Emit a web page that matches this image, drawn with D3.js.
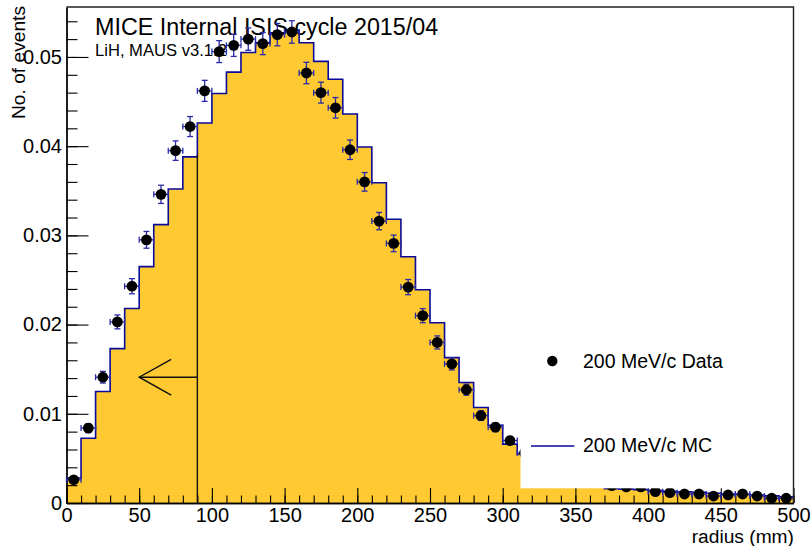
<!DOCTYPE html>
<html>
<head>
<meta charset="utf-8">
<script src="https://cdn.jsdelivr.net/npm/d3@7"></script>
<style>
  html, body { margin: 0; padding: 0; background: #fff; }
  svg { display: block; font-family: "Liberation Sans", Arial, Helvetica, sans-serif; }
</style>
</head>
<body>
<svg id="chart" width="812" height="546"></svg>
<script>
// Radial distribution, 10 mm bins from 0 to 500 mm
const binEdges = d3.range(0, 501, 10);
const binCenters = d3.range(5, 500, 10);

// Data: normalised counts per bin with statistical errors
const dataValues = [
  0.0026, 0.0084, 0.0141, 0.0203, 0.0243, 0.0295, 0.0346, 0.0395, 0.0422, 0.0462,
  0.0506, 0.0513, 0.0520, 0.0515, 0.0525, 0.0528, 0.0482, 0.0460, 0.0443, 0.0396,
  0.0360, 0.0316, 0.0291, 0.0242, 0.0210, 0.0180, 0.0156, 0.0127, 0.0098, 0.0085,
  0.0070, 0.0056, 0.0047, 0.0039, 0.0032, 0.0027, 0.0024, 0.00195, 0.0018, 0.0018,
  0.00127, 0.00116, 0.00101, 0.00101, 0.00078, 0.0009, 0.00101, 0.00078, 0.00053, 0.00053
];
const dataErrors = [
  0.00028, 0.0005, 0.00065, 0.00078, 0.00085, 0.00094, 0.00102, 0.00109, 0.00112, 0.00118,
  0.00123, 0.00124, 0.00125, 0.00124, 0.00125, 0.00126, 0.0012, 0.00117, 0.00115, 0.00109,
  0.00104, 0.00097, 0.00093, 0.00085, 0.00079, 0.00073, 0.00068, 0.00062, 0.00054, 0.0005,
  0.00046, 0.00041, 0.00038, 0.00034, 0.00031, 0.00028, 0.00027, 0.00024, 0.00023, 0.00023,
  0.00019, 0.00019, 0.00017, 0.00017, 0.00015, 0.00016, 0.00017, 0.00015, 0.00013, 0.00013
];

// Simulation histogram
const mcValues = [
  0.0028, 0.00725, 0.0125, 0.0173, 0.0218, 0.0265, 0.0312, 0.0352, 0.0388, 0.0426,
  0.0459, 0.0483, 0.0505, 0.0516, 0.0527, 0.0530, 0.0516, 0.0495, 0.0475, 0.0436,
  0.0399, 0.0359, 0.0318, 0.0276, 0.0239, 0.0202, 0.0163, 0.0135, 0.0107, 0.0087,
  0.0066, 0.0055, 0.0045, 0.0037, 0.0031, 0.0026, 0.0022, 0.0016, 0.00155, 0.0015,
  0.0014, 0.0013, 0.00125, 0.0012, 0.0011, 0.001, 0.00095, 0.0009, 0.0008, 0.0007
];

// Axis ticks
const xMajorTicks = [0, 50, 100, 150, 200, 250, 300, 350, 400, 450, 500];
const xMinorTicks = d3.range(0, 501, 10);
const yMajorTicks = [0, 0.01, 0.02, 0.03, 0.04, 0.05];
const yMinorTicks = [0, 0.002, 0.004, 0.006, 0.008, 0.01, 0.012, 0.014, 0.016, 0.018, 0.02,
  0.022, 0.024, 0.026, 0.028, 0.03, 0.032, 0.034, 0.036, 0.038, 0.04, 0.042, 0.044, 0.046,
  0.048, 0.05, 0.052, 0.054];

// Texts
const titleText = "MICE Internal ISIS cycle 2015/04";
const subtitleText = "LiH, MAUS v3.1.2";
const xTitle = "radius (mm)";
const yTitle = "No. of events";
const legendLabels = ["200 MeV/c Data", "200 MeV/c MC"];

// Selection cut at 90 mm, arrow pointing towards accepted region
const cutRadius = 90;
const cutHeight = 0.039;
const arrowTip = 50;
const arrowLevel = 0.0141;

const fillColor = "#fec931";
const mcColor = "#0a0a9a";
const errColor = "#2a2aa8";

const svg = d3.select("#chart");
const frame = { left: 66.5, right: 793.5, top: 7, bottom: 503 };

const x = d3.scaleLinear().domain([0, 500]).range([frame.left, frame.right]);
const y = d3.scaleLinear().domain([0, 0.0556]).range([frame.bottom, frame.top]);

// --- MC histogram: filled steps ---
const stepPts = [[x(binEdges[0]), y(0)]];
mcValues.forEach((v, i) => {
  stepPts.push([x(binEdges[i]), y(v)]);
  stepPts.push([x(binEdges[i + 1]), y(v)]);
});
stepPts.push([x(500), y(0)]);

svg.append("path")
  .attr("d", d3.line()(stepPts) + "Z")
  .attr("fill", fillColor)
  .attr("stroke", "none");

svg.append("path")
  .attr("d", d3.line()(stepPts.slice(1, stepPts.length - 1)))
  .attr("fill", "none")
  .attr("stroke", mcColor)
  .attr("stroke-width", 1.6);

// --- Axes (ticks drawn inside the frame) ---
const fmtY = d => d === 0 ? "0" : d3.format(".2f")(d);

const xAxisMinor = d3.axisBottom(x).tickValues(xMinorTicks).tickSize(-7.5).tickSizeOuter(0).tickFormat("");
const xAxisMajor = d3.axisBottom(x).tickValues(xMajorTicks).tickSize(-15).tickSizeOuter(0).tickPadding(5)
  .tickFormat(d3.format("d"));
const yAxisMinor = d3.axisLeft(y).tickValues(yMinorTicks).tickSize(-11).tickSizeOuter(0).tickFormat("");
const yAxisMajor = d3.axisLeft(y).tickValues(yMajorTicks).tickSize(-22).tickSizeOuter(0).tickPadding(4.5)
  .tickFormat(fmtY);

function styleAxis(g) {
  g.selectAll("path.domain").attr("stroke", "#000").attr("stroke-width", 1.3);
  g.selectAll(".tick line").attr("stroke", "#000").attr("stroke-width", 1.1);
  g.selectAll("text").attr("font-size", 20).attr("fill", "#000")
    .attr("font-family", "'Liberation Sans', Arial, sans-serif");
}

svg.append("g").attr("transform", `translate(0,${frame.bottom})`).call(xAxisMinor).call(styleAxis);
svg.append("g").attr("transform", `translate(0,${frame.bottom})`).call(xAxisMajor).call(styleAxis);
svg.append("g").attr("transform", `translate(${frame.left},0)`).call(yAxisMinor).call(styleAxis);
svg.append("g").attr("transform", `translate(${frame.left},0)`).call(yAxisMajor).call(styleAxis);

// --- Titles ---
svg.append("text").attr("x", 95).attr("y", 35).attr("font-size", 23.3).attr("fill", "#000").text(titleText);
svg.append("text").attr("x", 95).attr("y", 56).attr("font-size", 16.6).attr("fill", "#000").text(subtitleText);

svg.append("text")
  .attr("transform", "translate(25,6) rotate(-90)")
  .attr("text-anchor", "end")
  .attr("font-size", 19.2).attr("fill", "#000")
  .text(yTitle);

svg.append("text")
  .attr("x", 794).attr("y", 542.5)
  .attr("text-anchor", "end")
  .attr("font-size", 19.2).attr("fill", "#000")
  .text(xTitle);

// --- Cut line and arrow ---
const cut = svg.append("g").attr("stroke", "#111").attr("stroke-width", 1.4).attr("fill", "none");
cut.append("line")
  .attr("x1", x(cutRadius)).attr("x2", x(cutRadius))
  .attr("y1", y(0)).attr("y2", y(cutHeight));
cut.append("line")
  .attr("x1", x(cutRadius)).attr("x2", x(arrowTip))
  .attr("y1", y(arrowLevel)).attr("y2", y(arrowLevel));
cut.append("path")
  .attr("d", d3.line()([
    [x(arrowTip + 22), y(arrowLevel + 0.002)],
    [x(arrowTip), y(arrowLevel)],
    [x(arrowTip + 22), y(arrowLevel - 0.002)]
  ]));

// --- Data points with error bars ---
const pts = binCenters.map((c, i) => ({ c, v: dataValues[i], e: dataErrors[i] }));
const eg = svg.append("g").attr("stroke", errColor).attr("stroke-width", 1.3);
const cap = 3;
pts.forEach(p => {
  const cx = x(p.c), cy = y(p.v);
  const xl = x(p.c - 5), xr = x(p.c + 5);
  const yt = y(p.v + p.e), yb = y(p.v - p.e);
  eg.append("line").attr("x1", xl).attr("x2", xr).attr("y1", cy).attr("y2", cy);
  eg.append("line").attr("x1", xl).attr("x2", xl).attr("y1", cy - cap).attr("y2", cy + cap);
  eg.append("line").attr("x1", xr).attr("x2", xr).attr("y1", cy - cap).attr("y2", cy + cap);
  eg.append("line").attr("x1", cx).attr("x2", cx).attr("y1", yt).attr("y2", yb);
  eg.append("line").attr("x1", cx - cap).attr("x2", cx + cap).attr("y1", yt).attr("y2", yt);
  eg.append("line").attr("x1", cx - cap).attr("x2", cx + cap).attr("y1", yb).attr("y2", yb);
});
svg.append("g").selectAll("circle")
  .data(pts)
  .join("circle")
  .attr("cx", d => x(d.c))
  .attr("cy", d => y(d.v))
  .attr("r", 5.4)
  .attr("fill", "#000");

// --- Legend (opaque box over the plot) ---
const legend = svg.append("g");
legend.append("rect")
  .attr("x", 520.5).attr("y", 320)
  .attr("width", 793.5 - 520.5).attr("height", 168.3)
  .attr("fill", "#fff");
legend.append("circle").attr("cx", 552.3).attr("cy", 361).attr("r", 5.2).attr("fill", "#000");
legend.append("text").attr("x", 583).attr("y", 368.3).attr("font-size", 19.5).attr("fill", "#000")
  .text(legendLabels[0]);
legend.append("line").attr("x1", 531).attr("x2", 574.3).attr("y1", 446).attr("y2", 446)
  .attr("stroke", mcColor).attr("stroke-width", 1.4);
legend.append("text").attr("x", 583).attr("y", 452).attr("font-size", 19.5).attr("fill", "#000")
  .text(legendLabels[1]);

// --- Frame border (top and right) ---
svg.append("path")
  .attr("d", `M${frame.left},${frame.top}H${frame.right}V${frame.bottom}`)
  .attr("fill", "none").attr("stroke", "#222").attr("stroke-width", 1.4);
</script>
</body>
</html>
